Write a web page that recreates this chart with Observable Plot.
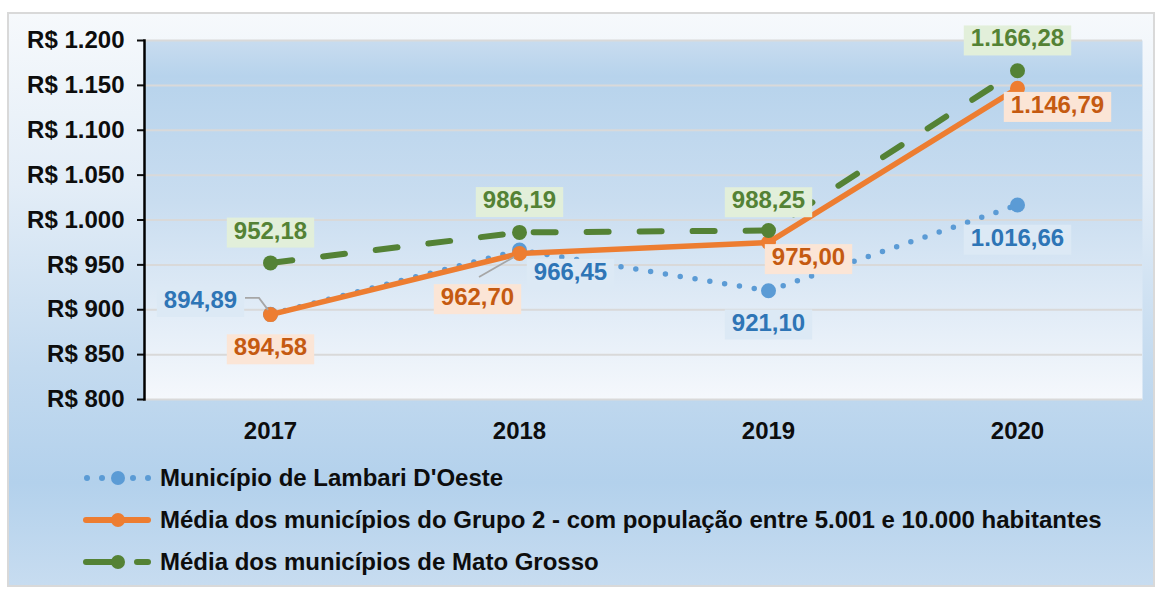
<!DOCTYPE html>
<html>
<head>
<meta charset="utf-8">
<script src="https://cdn.jsdelivr.net/npm/d3@7"></script>
<script src="https://cdn.jsdelivr.net/npm/@observablehq/plot@0.6"></script>
<style>
  body { margin: 0; background: #ffffff; font-family: "Liberation Sans", Arial, sans-serif; }
  #wrap { position: relative; width: 1159px; height: 590px; overflow: hidden; }
  #bg { position: absolute; left: 7px; top: 12px; width: 1144px; height: 571px; border: 2px solid #d9d9d9;
        background: linear-gradient(to bottom, #f6f9fc 0%, #e3edf7 30%, #c3daef 62%, #b3d1ec 82%, #c7dcf0 100%); }
  #chart { position: absolute; left: 0; top: 0; }
  .leg-row { position: absolute; left: 83px; height: 30px; display: flex; align-items: center; }
  .leg-row span { margin-left: 9px; font-size: 24px; font-weight: bold; color: #0d0d0d; white-space: nowrap; }
</style>
</head>
<body>
<div id="wrap">
  <div id="bg"></div>
  <div id="chart"></div>
  <div id="legend"></div>
</div>
<script>
// ---- data ----
const years = ["2017", "2018", "2019", "2020"];
const lambari = [894.89, 966.45, 921.10, 1016.66];
const grupo2 = [894.58, 962.70, 975.00, 1146.79];
const matoGrosso = [952.18, 986.19, 988.25, 1166.28];
const seriesNames = [
  "Município de Lambari D'Oeste",
  "Média dos municípios do Grupo 2 - com população entre 5.001 e 10.000 habitantes",
  "Média dos municípios de Mato Grosso"
];
const yTicks = [800, 850, 900, 950, 1000, 1050, 1100, 1150, 1200];

// ---- styling / layout (not data) ----
const seriesStyle = [
  {key: "lambari", values: lambari, stroke: "#5b9bd5", text: "#2e75b6", box: "#dce9f5", width: 5.5, dash: "0,15"},
  {key: "grupo2", values: grupo2, stroke: "#ed7d31", text: "#c55a11", box: "#fbe5d6", width: 5.5, dash: null},
  {key: "mt", values: matoGrosso, stroke: "#548235", text: "#548235", box: "#e2efda", width: 6, dash: "22,31"}
];
// label centre offsets (px) relative to each point
const labelOffsets = {
  lambari: [[-70, -14], [51, 22], [0, 32], [0, 33]],
  grupo2: [[0, 33], [-42, 44], [40, 15], [40, 17]],
  mt: [[0, -32], [0, -32], [0, -30], [0, -32]]
};
// leader lines (px, relative to point)
const leaders = [
  {key: "lambari", i: 0, pts: [[-25, -16], [-11, -16], [-2, -4]]},
  {key: "grupo2", i: 1, pts: [[-40, 24], [-5, 4]]}
];

const loc = d3.formatLocale({decimal: ",", thousands: ".", grouping: [3], currency: ["R$ ", ""]});
const fmtVal = loc.format(",.2f");
const fmtTick = d => "R$ " + loc.format(",")(d);

const rows = [];
seriesStyle.forEach((s, si) => {
  years.forEach((y, i) => rows.push({series: seriesNames[si], key: s.key, year: y, value: s.values[i], i}));
});

const marks = [
  Plot.frame({fill: "url(#plotGrad)", stroke: "none"}),
  Plot.gridY(yTicks, {stroke: "#d9d9d9", strokeOpacity: 1, strokeWidth: 2}),
  Plot.axisY(yTicks, {tickFormat: fmtTick, tickSize: 7, tickPadding: 13, fontSize: 24, fontWeight: "bold", strokeWidth: 2}),
  Plot.axisX({tickSize: 0, tickPadding: 22, fontSize: 24, fontWeight: "bold"}),
  Plot.frame({anchor: "left", stroke: "#000", strokeWidth: 2.5})
];
seriesStyle.forEach(s => {
  const d = rows.filter(r => r.key === s.key);
  marks.push(Plot.line(d, {x: "year", y: "value", stroke: s.stroke, strokeWidth: s.width,
    strokeDasharray: s.dash, strokeLinecap: "round", strokeLinejoin: "round"}));
  marks.push(Plot.dot(d, {x: "year", y: "value", r: 7.5, fill: s.stroke, stroke: "none"}));
});
seriesStyle.forEach(s => {
  rows.filter(r => r.key === s.key).forEach(r => {
    const [dx, dy] = labelOffsets[s.key][r.i];
    marks.push(Plot.text([r], {x: "year", y: "value", text: d => fmtVal(d.value), dx, dy,
      fill: s.text, fontSize: 24, fontWeight: "bold"}));
  });
});

const chart = Plot.plot({
  width: 1159,
  height: 445,
  marginLeft: 144,
  marginRight: 17,
  marginTop: 40,
  marginBottom: 46,
  x: {type: "point", domain: years, padding: 0.5, label: null},
  y: {domain: [800, 1200], label: null},
  style: {background: "transparent", color: "#0d0d0d", fontFamily: "'Liberation Sans', Arial, sans-serif", overflow: "visible"},
  marks
});
document.getElementById("chart").appendChild(chart);

const NS = "http://www.w3.org/2000/svg";
// gradient for plot area
const defs = document.createElementNS(NS, "defs");
defs.innerHTML = `<linearGradient id="plotGrad" x1="0" y1="0" x2="0" y2="1">
  <stop offset="0" stop-color="#c8dcef"/><stop offset="0.1" stop-color="#b7d3ec"/>
  <stop offset="0.45" stop-color="#c9ddf0"/><stop offset="1" stop-color="#f5f8fc"/></linearGradient>`;
chart.insertBefore(defs, chart.firstChild);

// label boxes: find each value label by its text
const labelKey = new Map();
seriesStyle.forEach(s => s.values.forEach(v => labelKey.set(fmtVal(v), s)));
let firstLabelGroup = null;
chart.querySelectorAll("text").forEach(t => {
  const s = labelKey.get(t.textContent.trim());
  if (!s) return;
  if (!firstLabelGroup) firstLabelGroup = t.parentNode;
  const bb = t.getBBox();
  const rect = document.createElementNS(NS, "rect");
  rect.setAttribute("x", bb.x - 7);
  rect.setAttribute("y", bb.y + 1);
  rect.setAttribute("width", bb.width + 14);
  rect.setAttribute("height", bb.height + 3);
  rect.setAttribute("fill", s.box);
  const tr = t.getAttribute("transform");
  if (tr) rect.setAttribute("transform", tr);
  t.parentNode.insertBefore(rect, t);
});

// leader lines via plot scales
const xs = chart.scale("x"), ys = chart.scale("y");
const lg = document.createElementNS(NS, "g");
leaders.forEach(l => {
  const s = seriesStyle.find(q => q.key === l.key);
  const px = xs.apply(years[l.i]), py = ys.apply(s.values[l.i]);
  const pl = document.createElementNS(NS, "polyline");
  pl.setAttribute("points", l.pts.map(([a, b]) => `${px + a},${py + b}`).join(" "));
  pl.setAttribute("fill", "none");
  pl.setAttribute("stroke", "#a6a6a6");
  pl.setAttribute("stroke-width", 1.8);
  lg.appendChild(pl);
});
if (firstLabelGroup) {
  let top = firstLabelGroup;
  while (top.parentNode && top.parentNode !== chart) top = top.parentNode;
  chart.insertBefore(lg, top);
} else chart.appendChild(lg);

// legend
const legend = document.getElementById("legend");
const rowY = [463, 505, 547];
seriesStyle.forEach((s, si) => {
  const row = document.createElement("div");
  row.className = "leg-row";
  row.style.top = rowY[si] + "px";
  const sw = d3.create("svg").attr("width", 68).attr("height", 20);
  if (s.key === "lambari") {
    [4, 19, 50, 65].forEach(x => sw.append("circle").attr("cx", x).attr("cy", 10).attr("r", 3).attr("fill", s.stroke));
    sw.append("circle").attr("cx", 35).attr("cy", 10).attr("r", 7).attr("fill", s.stroke);
  } else if (s.key === "grupo2") {
    sw.append("line").attr("x1", 3).attr("x2", 65).attr("y1", 10).attr("y2", 10).attr("stroke", s.stroke).attr("stroke-width", 6).attr("stroke-linecap", "round");
    sw.append("circle").attr("cx", 35).attr("cy", 10).attr("r", 7).attr("fill", s.stroke);
  } else {
    sw.append("line").attr("x1", 3).attr("x2", 35).attr("y1", 10).attr("y2", 10).attr("stroke", s.stroke).attr("stroke-width", 6).attr("stroke-linecap", "round");
    sw.append("line").attr("x1", 54).attr("x2", 65).attr("y1", 10).attr("y2", 10).attr("stroke", s.stroke).attr("stroke-width", 6).attr("stroke-linecap", "round");
    sw.append("circle").attr("cx", 35).attr("cy", 10).attr("r", 7).attr("fill", s.stroke);
  }
  row.appendChild(sw.node());
  const span = document.createElement("span");
  span.textContent = seriesNames[si];
  row.appendChild(span);
  legend.appendChild(row);
});
</script>
</body>
</html>
